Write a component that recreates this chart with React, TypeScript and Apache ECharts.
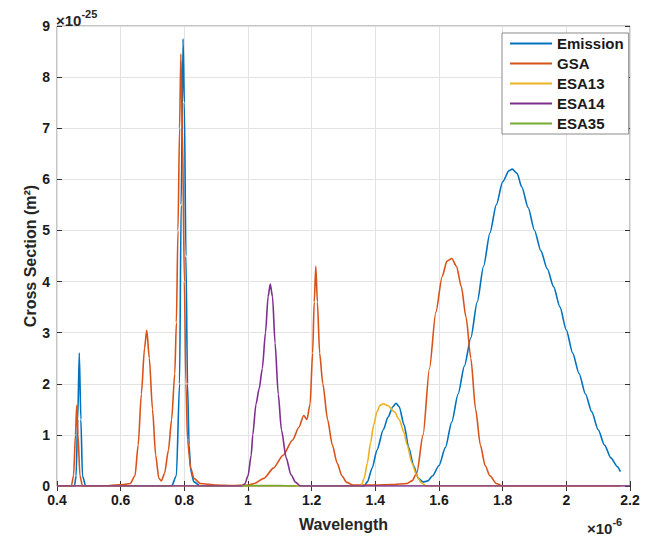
import React, { useEffect, useRef } from "react";
import * as echarts from "echarts";

// Wavelength in units of 1e-6 m, cross section in units of 1e-25 m^2
const X_TICKS = [0.4, 0.6, 0.8, 1.0, 1.2, 1.4, 1.6, 1.8, 2.0, 2.2];
const Y_TICKS = [0, 1, 2, 3, 4, 5, 6, 7, 8, 9];
const SERIES_NAMES = ["Emission", "GSA", "ESA13", "ESA14", "ESA35"];
const COLORS = ["#0072BD", "#D95319", "#EDB120", "#7E2F8E", "#77AC30"];

const EMISSION: number[][] = [
  [0.4, 0], [0.455, 0], [0.46, 0.2], [0.465, 1.3], [0.47, 2.6], [0.475, 1.3], [0.48, 0.2], [0.49, 0],
  [0.76, 0], [0.775, 0.2], [0.785, 2.0], [0.79, 5.5], [0.796, 8.75], [0.8, 7.5], [0.805, 4.5], [0.81, 2.0],
  [0.815, 0.8], [0.82, 0.3], [0.83, 0.08], [0.85, 0],
  [1.365, 0], [1.375, 0.08], [1.39, 0.35], [1.405, 0.7], [1.425, 1.1], [1.44, 1.35], [1.455, 1.55],
  [1.465, 1.62], [1.475, 1.55], [1.49, 1.2], [1.505, 0.75], [1.52, 0.4], [1.535, 0.15], [1.55, 0.08],
  [1.565, 0.1], [1.58, 0.2], [1.6, 0.4], [1.62, 0.75], [1.64, 1.25], [1.66, 1.8], [1.68, 2.35],
  [1.7, 2.9], [1.72, 3.6], [1.74, 4.3], [1.76, 4.95], [1.78, 5.5], [1.8, 5.95], [1.82, 6.17],
  [1.83, 6.2], [1.845, 6.12], [1.86, 5.85], [1.88, 5.45], [1.9, 5.0], [1.92, 4.6], [1.94, 4.25],
  [1.96, 3.9], [1.98, 3.5], [2.0, 3.05], [2.02, 2.6], [2.04, 2.2], [2.06, 1.8], [2.08, 1.45],
  [2.1, 1.1], [2.12, 0.8], [2.14, 0.55], [2.16, 0.38], [2.17, 0.28],
];

const GSA: number[][] = [
  [0.4, 0], [0.445, 0], [0.452, 0.2], [0.458, 1.0], [0.462, 1.58], [0.466, 1.0], [0.472, 0.2], [0.48, 0],
  [0.55, 0], [0.58, 0.02], [0.61, 0.03], [0.63, 0.05], [0.645, 0.2], [0.655, 0.8], [0.665, 1.8],
  [0.675, 2.7], [0.682, 3.05], [0.69, 2.5], [0.7, 1.5], [0.71, 0.6], [0.72, 0.15], [0.728, 0.1],
  [0.738, 0.25], [0.75, 0.7], [0.76, 1.3], [0.77, 2.2], [0.775, 3.2], [0.78, 5.0], [0.785, 7.0],
  [0.789, 8.45], [0.794, 7.0], [0.8, 4.0], [0.805, 2.0], [0.81, 0.9], [0.82, 0.35], [0.83, 0.15],
  [0.85, 0.05], [0.9, 0.02], [0.95, 0.01], [1.0, 0.02],
  [1.02, 0.05], [1.05, 0.15], [1.08, 0.35], [1.11, 0.6], [1.14, 0.9], [1.16, 1.15], [1.175, 1.38],
  [1.185, 1.3], [1.195, 1.6], [1.203, 2.6], [1.208, 3.6], [1.213, 4.3], [1.218, 3.6], [1.225, 2.6],
  [1.235, 2.0], [1.25, 1.3], [1.265, 0.8], [1.28, 0.45], [1.295, 0.2], [1.31, 0.07], [1.33, 0.02],
  [1.4, 0.02], [1.45, 0.03], [1.5, 0.05],
  [1.515, 0.1], [1.53, 0.25], [1.55, 1.0], [1.57, 2.3], [1.59, 3.4], [1.61, 4.1], [1.625, 4.4],
  [1.64, 4.45], [1.655, 4.3], [1.67, 3.9], [1.685, 3.3], [1.7, 2.5], [1.715, 1.5], [1.73, 0.8],
  [1.745, 0.4], [1.76, 0.2], [1.78, 0.05], [1.8, 0], [2.17, 0],
];

const ESA13: number[][] = [
  [0.4, 0], [1.355, 0], [1.365, 0.15], [1.375, 0.45], [1.385, 0.85], [1.395, 1.2], [1.405, 1.45],
  [1.415, 1.58], [1.425, 1.61], [1.44, 1.57], [1.46, 1.45], [1.475, 1.3], [1.49, 1.05], [1.5, 0.8],
  [1.515, 0.45], [1.53, 0.2], [1.545, 0.06], [1.56, 0], [2.17, 0],
];

const ESA14: number[][] = [
  [0.4, 0], [0.98, 0], [0.99, 0.04], [1.0, 0.2], [1.01, 0.6], [1.015, 1.0], [1.025, 1.6],
  [1.035, 1.9], [1.045, 2.3], [1.055, 3.0], [1.063, 3.7], [1.07, 3.95], [1.077, 3.7], [1.085, 2.8],
  [1.095, 1.8], [1.105, 1.1], [1.12, 0.55], [1.135, 0.22], [1.15, 0.07], [1.165, 0], [2.2, 0],
];

const ESA35: number[][] = [
  [0.98, 0], [1.0, 0.01], [1.05, 0.01], [1.1, 0.01], [1.15, 0],
];

const DATA = [EMISSION, GSA, ESA13, ESA14, ESA35];

const AXIS_COLOR = "#8a8a8a";
const FONT = "'Liberation Sans', Arial, sans-serif";

export default function App() {
  const ref = useRef<HTMLDivElement>(null);

  useEffect(() => {
    if (!ref.current) return;
    const chart = echarts.init(ref.current, undefined, { renderer: "svg" });
    const xMin = X_TICKS[0];
    const xMax = X_TICKS[X_TICKS.length - 1];
    const xInt = 0.2;
    const yMin = Y_TICKS[0];
    const yMax = Y_TICKS[Y_TICKS.length - 1];
    const yInt = 1;
    const fmt = (v: number) => String(parseFloat(v.toFixed(2)));

    const baseX = {
      type: "value",
      min: xMin,
      max: xMax,
      interval: xInt,
      axisLine: { show: false },
    };
    const baseY = {
      type: "value",
      min: yMin,
      max: yMax,
      interval: yInt,
      axisLine: { show: false },
    };
    const expRich = {
      a: { fontSize: 15, fontWeight: "bold", fill: "#262626", fontFamily: FONT, verticalAlign: "bottom", lineHeight: 20 },
      b: { fontSize: 11, fontWeight: "bold", fill: "#262626", fontFamily: FONT, verticalAlign: "top", padding: [0, 0, 8, 0] },
    };

    chart.setOption({
      animation: false,
      backgroundColor: "#ffffff",
      textStyle: { fontFamily: FONT },
      grid: {
        left: 49,
        right: 24,
        top: 18,
        bottom: 45,
        show: true,
        borderColor: AXIS_COLOR,
        borderWidth: 1,
        backgroundColor: "transparent",
      },
      xAxis: [
        {
          ...baseX,
          position: "bottom",
          name: "Wavelength",
          nameLocation: "middle",
          nameGap: 30,
          nameMoveOverlap: false,
          nameTextStyle: { fontSize: 16, fontWeight: "bold", color: "#262626", fontFamily: FONT },
          axisTick: { show: true, inside: true, length: 5, lineStyle: { color: "#333" } },
          axisLabel: {
            fontSize: 14,
            fontWeight: "bold",
            color: "#1a1a1a",
            margin: 7,
            fontFamily: FONT,
            formatter: fmt,
          },
          splitLine: { show: true, lineStyle: { color: "#e3e3e3", width: 1 } },
        },
        {
          ...baseX,
          position: "top",
          axisTick: { show: true, inside: true, length: 5, lineStyle: { color: "#333" } },
          axisLabel: { show: false },
          splitLine: { show: false },
        },
      ],
      yAxis: [
        {
          ...baseY,
          position: "left",
          name: "Cross Section (m²)",
          nameLocation: "middle",
          nameGap: 19,
          nameMoveOverlap: false,
          nameTextStyle: { fontSize: 16, fontWeight: "bold", color: "#262626", fontFamily: FONT },
          axisTick: { show: true, inside: true, length: 5, lineStyle: { color: "#333" } },
          axisLabel: {
            fontSize: 14,
            fontWeight: "bold",
            color: "#1a1a1a",
            margin: 7,
            fontFamily: FONT,
          },
          splitLine: { show: true, lineStyle: { color: "#e3e3e3", width: 1 } },
        },
        {
          ...baseY,
          position: "right",
          axisTick: { show: true, inside: true, length: 5, lineStyle: { color: "#333" } },
          axisLabel: { show: false },
          splitLine: { show: false },
        },
      ],
      legend: {
        orient: "vertical",
        left: 494,
        top: 25,
        data: SERIES_NAMES,
        icon: "rect",
        backgroundColor: "#ffffff",
        borderColor: AXIS_COLOR,
        borderWidth: 1,
        borderRadius: 0,
        padding: [3, 5, 3, 8],
        itemGap: 5,
        itemWidth: 42,
        itemHeight: 2,
        textStyle: {
          fontSize: 15,
          fontWeight: "bold",
          color: "#1a1a1a",
          lineHeight: 15,
          fontFamily: FONT,
        },
      },
      graphic: [
        {
          type: "text",
          left: 48,
          top: 0,
          style: { text: "{a|×10}{b|-25}", rich: expRich },
        },
        {
          type: "text",
          left: 579,
          top: 508,
          style: { text: "{a|×10}{b|-6}", rich: expRich },
        },
      ],
      series: SERIES_NAMES.map((name, i) => ({
        name,
        type: "line",
        xAxisIndex: 0,
        yAxisIndex: 0,
        data: DATA[i],
        symbol: "none",
        smooth: 0.25,
        smoothMonotone: "x",
        color: COLORS[i],
        lineStyle: { width: 1.6, color: COLORS[i] },
        z: 2 + i,
      })),
    });

    return () => chart.dispose();
  }, []);

  return <div ref={ref} style={{ width: 646, height: 529 }} />;
}
